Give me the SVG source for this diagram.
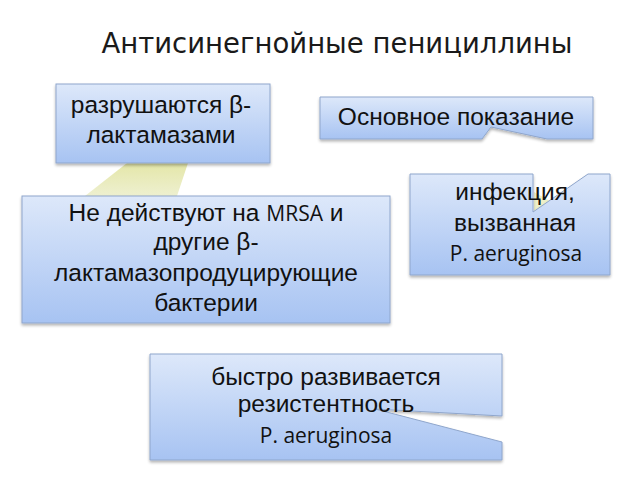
<svg xmlns="http://www.w3.org/2000/svg" width="640" height="480" viewBox="0 0 640 480">
<defs>
<linearGradient id="bg" x1="0" y1="0" x2="0" y2="1">
<stop offset="0" stop-color="#dde8fa"/>
<stop offset="1" stop-color="#a7c3f2"/>
</linearGradient>
<linearGradient id="yg" x1="0" y1="0" x2="0" y2="1">
<stop offset="0" stop-color="#e4e6a8"/>
<stop offset="1" stop-color="#eef0d0"/>
</linearGradient>
<filter id="sh" x="-5%" y="-5%" width="110%" height="120%">
<feGaussianBlur in="SourceAlpha" stdDeviation="1.5"/>
<feOffset dx="0" dy="2" result="o"/>
<feComponentTransfer><feFuncA type="linear" slope="0.3"/></feComponentTransfer>
<feMerge><feMergeNode/><feMergeNode in="SourceGraphic"/></feMerge>
</filter>
</defs>
<style>
.box{fill:url(#bg);stroke:#8fa6cc;stroke-width:1;filter:url(#sh)}
.t{font-family:"Liberation Sans",Arial,sans-serif;font-size:24.5px;fill:#111;text-anchor:middle}
.c{font-family:"Open Sans","Noto Sans",sans-serif;font-size:21px}
.title{font-family:"DejaVu Sans",Verdana,sans-serif;font-size:27.5px;fill:#1a1a1a;text-anchor:middle}
</style>
<rect width="640" height="480" fill="#fff"/>
<text class="title" x="337" y="53">Антисинегнойные пенициллины</text>
<g id="connectors">
<polygon points="127,163 188,163 177,196 85,196" fill="url(#yg)"/>
<polygon points="534,212 534,192 550,201" fill="#eef0c8"/>
</g>
<g id="n1">
<rect class="box" x="56" y="84" width="214" height="79"/>
<text class="t" x="161" y="113">разрушаются β-</text>
<text class="t" x="161" y="143">лактамазами</text>
</g>
<g id="n2">
<path class="box" d="M320,97 H593 V139 H547 L491,127 L482,139 H320 Z"/>
<text class="t" x="456" y="125">Основное показание</text>
</g>
<g id="n3">
<path class="box" d="M410,174 H533 V212 L588,174 H610 V275 H410 Z"/>
<text class="t" x="515" y="200">инфекция,</text>
<text class="t" x="515" y="231">вызванная</text>
<text class="t c" x="516" y="261">P. aeruginosa</text>
</g>
<g id="n4">
<rect class="box" x="22" y="196" width="368" height="127"/>
<text class="t" x="206" y="221">Не действуют на <tspan class="c">MRSA</tspan> и</text>
<text class="t" x="206" y="250">другие β-</text>
<text class="t" x="206" y="281">лактамазопродуцирующие</text>
<text class="t" x="206" y="311">бактерии</text>
</g>
<g id="n5">
<path class="box" d="M150,354 H502 V416 L375,409 L502,442 V460 H150 Z"/>
<text class="t" x="326" y="385">быстро развивается</text>
<text class="t" x="326" y="412">резистентность</text>
<text class="t c" x="326" y="443">P. aeruginosa</text>
</g>
</svg>
